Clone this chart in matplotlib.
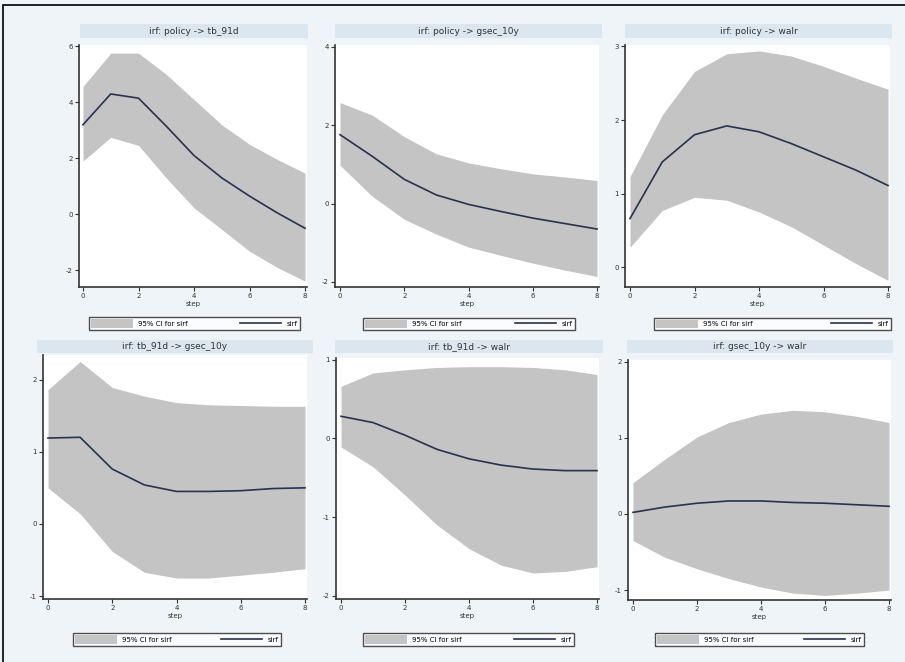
import matplotlib
matplotlib.use('Agg')
from matplotlib import pyplot as plt
from matplotlib.patches import Patch, Rectangle
from matplotlib.lines import Line2D

plt.rcParams['axes.unicode_minus'] = False

steps = [0, 1, 2, 3, 4, 5, 6, 7, 8]

titles = ['irf: policy -> tb_91d', 'irf: policy -> gsec_10y', 'irf: policy -> walr',
          'irf: tb_91d -> gsec_10y', 'irf: tb_91d -> walr', 'irf: gsec_10y -> walr']

# sirf point estimates
sirf_1 = [3.2, 4.3, 4.15, 3.15, 2.1, 1.3, 0.65, 0.05, -0.5]
sirf_2 = [1.76, 1.21, 0.62, 0.22, -0.02, -0.2, -0.37, -0.51, -0.65]
sirf_3 = [0.66, 1.43, 1.8, 1.92, 1.84, 1.68, 1.5, 1.32, 1.11]
sirf_4 = [1.19, 1.2, 0.76, 0.54, 0.45, 0.45, 0.46, 0.49, 0.5]
sirf_5 = [0.28, 0.2, 0.04, -0.14, -0.26, -0.34, -0.39, -0.41, -0.41]
sirf_6 = [0.02, 0.09, 0.14, 0.17, 0.17, 0.15, 0.14, 0.12, 0.1]

# 95% CI bounds
lo_1 = [1.9, 2.75, 2.46, 1.3, 0.23, -0.54, -1.32, -1.9, -2.39]
hi_1 = [4.57, 5.76, 5.76, 5.0, 4.1, 3.2, 2.5, 1.96, 1.47]
lo_2 = [0.98, 0.19, -0.4, -0.78, -1.11, -1.32, -1.52, -1.7, -1.86]
hi_2 = [2.58, 2.26, 1.71, 1.27, 1.04, 0.89, 0.76, 0.68, 0.59]
lo_3 = [0.27, 0.77, 0.95, 0.91, 0.75, 0.55, 0.3, 0.05, -0.18]
hi_3 = [1.23, 2.07, 2.66, 2.9, 2.94, 2.87, 2.73, 2.57, 2.42]
lo_4 = [0.5, 0.14, -0.38, -0.67, -0.75, -0.75, -0.71, -0.67, -0.62]
hi_4 = [1.86, 2.25, 1.89, 1.77, 1.68, 1.65, 1.64, 1.63, 1.63]
lo_5 = [-0.11, -0.36, -0.72, -1.1, -1.4, -1.61, -1.71, -1.69, -1.63]
hi_5 = [0.66, 0.83, 0.87, 0.9, 0.91, 0.91, 0.9, 0.87, 0.81]
lo_6 = [-0.35, -0.57, -0.72, -0.85, -0.96, -1.04, -1.07, -1.04, -1.0]
hi_6 = [0.41, 0.72, 1.01, 1.2, 1.31, 1.36, 1.34, 1.28, 1.2]

yticks = [[-2, 0, 2, 4, 6], [-2, 0, 2, 4], [0, 1, 2, 3],
          [-1, 0, 1, 2], [-2, -1, 0, 1], [-1, 0, 1, 2]]
ylims = [(-2.6, 6.05), (-2.13, 4.05), (-0.27, 3.02),
         (-1.04, 2.34), (-2.04, 1.02), (-1.13, 2.02)]

sirfs = [sirf_1, sirf_2, sirf_3, sirf_4, sirf_5, sirf_6]
los = [lo_1, lo_2, lo_3, lo_4, lo_5, lo_6]
his = [hi_1, hi_2, hi_3, hi_4, hi_5, hi_6]

# layout in pixels: x of step 0, x of step 8, axes top, axes bottom
boxes = [(83, 305, 45, 287), (340, 597, 45, 287), (630, 888, 45, 287),
         (48, 305, 355, 599), (341, 597, 358, 599), (633, 889, 360, 600)]
bands = [(80, 308, 24, 38), (335, 602, 24, 38), (625, 892, 24, 38),
         (37, 313, 340, 353), (335, 603, 340, 353), (627, 893, 340, 353)]
legs = [(89, 300, 314, 333), (363, 575, 315, 333), (654, 891, 315, 333),
        (73, 281, 631, 648), (363, 574, 631, 648), (655, 864, 631, 648)]

W, H = 905, 662
bg = '#eef4f8'
band_c = '#dbe6ee'
ci_c = '#c4c4c4'
line_c = '#28324f'
ax_c = '#333333'


def fbox(x0, x1, y0, y1):
    return [x0 / W, 1 - y1 / H, (x1 - x0) / W, (y1 - y0) / H]


fig = plt.figure(figsize=(W / 100, H / 100), dpi=100, facecolor=bg)
fig.patches.append(Rectangle((3 / W, -0.1), 1.2, 1 - 5 / H + 0.1, transform=fig.transFigure,
                             fill=False, edgecolor='black', linewidth=1.2))

for i in range(6):
    x0, x8, yt, yb = boxes[i]
    u = (x8 - x0) / 8
    ax = fig.add_axes(fbox(x0 - 0.15 * u, x8 + 0.06 * u, yt, yb))
    ax.set_facecolor('white')
    ax.fill_between(steps, los[i], his[i], color=ci_c, linewidth=0)
    ax.plot(steps, sirfs[i], color=line_c, linewidth=1.2)
    ax.set_xlim(-0.15, 8.06)
    ax.set_ylim(*ylims[i])
    ax.set_xticks([0, 2, 4, 6, 8])
    ax.set_yticks(yticks[i])
    for s in ['top', 'right']:
        ax.spines[s].set_visible(False)
    for s in ['left', 'bottom']:
        ax.spines[s].set_color(ax_c)
        ax.spines[s].set_linewidth(1.2)
    ax.tick_params(axis='both', labelsize=5, colors=ax_c, length=3, width=0.8, pad=1.5)
    ax.set_xlabel('step', fontsize=5, color=ax_c, labelpad=1)

    bx0, bx1, by0, by1 = bands[i]
    bax = fig.add_axes(fbox(bx0, bx1, by0, by1))
    bax.set_facecolor(band_c)
    bax.set_xticks([])
    bax.set_yticks([])
    for s in bax.spines.values():
        s.set_visible(False)
    bax.text(0.5, 0.5, titles[i], ha='center', va='center', fontsize=6.5, color='#333333')

    lx0, lx1, ly0, ly1 = legs[i]
    handles = [Patch(facecolor=ci_c, edgecolor='none'), Line2D([], [], color=line_c, linewidth=1.2)]
    leg = fig.legend(handles, ['95% CI for sirf', 'sirf'], ncol=2, loc='center',
                     bbox_to_anchor=fbox(lx0, lx1, ly0, ly1), mode='expand',
                     fontsize=5, frameon=True, fancybox=False, handlelength=6,
                     handleheight=1.4, borderpad=0.3, borderaxespad=0)
    leg.get_frame().set_edgecolor('#222222')
    leg.get_frame().set_linewidth(1.0)

plt.savefig('out.png', dpi=100, facecolor=bg)
